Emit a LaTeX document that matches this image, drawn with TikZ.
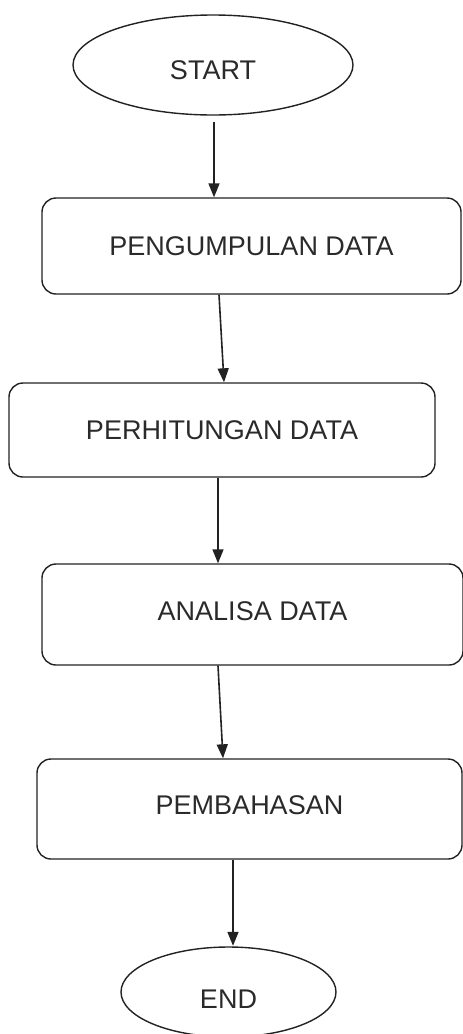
\documentclass[tikz,border=0pt]{standalone}
\usepackage{fontspec}
\setmainfont{Liberation Sans}
\usetikzlibrary{shapes.geometric,arrows.meta}
\definecolor{ink}{HTML}{222222}
\definecolor{txt}{HTML}{2A2A2A}
\tikzset{
  stepbox/.style={draw=ink, line width=1.4pt, rounded corners=14pt, inner sep=0pt,
    text=txt, font=\fontsize{27}{32}\selectfont, text height=19.3pt, text depth=0pt},
  term/.style={draw=ink, line width=1.4pt, ellipse, inner sep=0pt,
    text=txt, font=\fontsize{27}{32}\selectfont, text depth=0pt},
  flow/.style={draw=ink, line width=1.6pt, -{Triangle[length=14pt,width=11pt]}}
}
\begin{document}
\begin{tikzpicture}[x=1pt,y=-1pt]
\useasboundingbox (0,0) rectangle (463,1034);
\clip (0,0) rectangle (463,1034);
\node[term, minimum width=280pt, minimum height=100pt, text height=29.3pt] (start) at (213,65) {START};
\node[stepbox, minimum width=419pt, minimum height=96pt] (b1) at (251.5,246) {PENGUMPULAN DATA};
\node[stepbox, minimum width=426pt, minimum height=94pt] (b2) at (222,430) {PERHITUNGAN DATA};
\node[stepbox, minimum width=421pt, minimum height=101pt, text depth=7pt] (b3) at (252.5,614.5) {ANALISA DATA};
\node[stepbox, minimum width=425pt, minimum height=100pt, text depth=8pt] (b4) at (249.5,809) {PEMBAHASAN};
\node[term, minimum width=215pt, minimum height=90pt, text height=33pt] (end) at (228.5,992) {END};
\draw[flow] ([xshift=1pt,yshift=-6pt]start.south) -- ([xshift=-37.5pt]b1.north);
\draw[flow] ([xshift=-32.5pt]b1.south) -- ([xshift=2pt]b2.north);
\draw[flow] ([xshift=-4pt]b2.south) -- ([xshift=-34.5pt]b3.north);
\draw[flow] ([xshift=-34.5pt]b3.south) -- ([xshift=-26.5pt]b4.north);
\draw[flow] ([xshift=-16.5pt]b4.south) -- ([xshift=4.5pt,yshift=0.5pt]end.north);
\end{tikzpicture}
\end{document}
